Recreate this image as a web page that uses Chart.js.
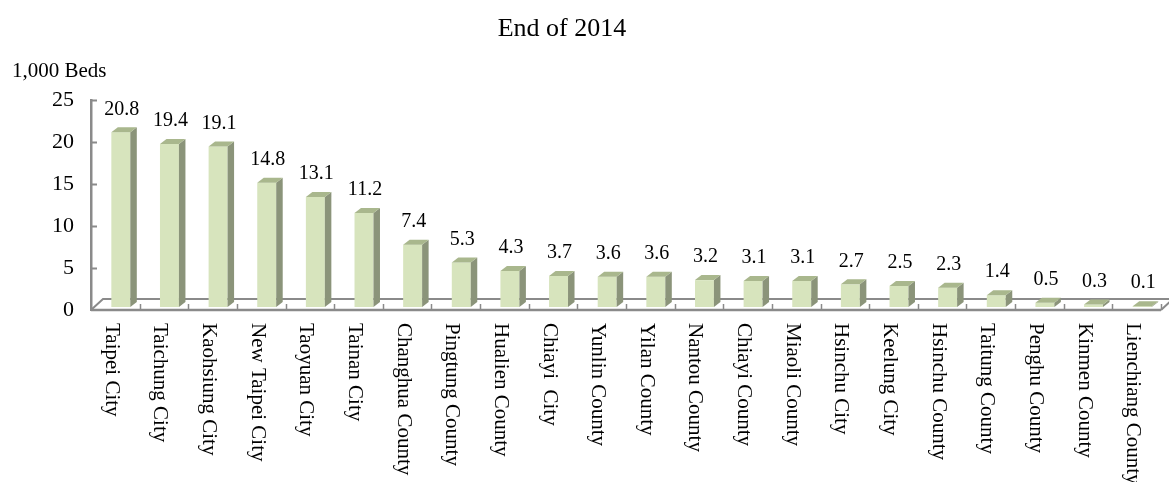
<!DOCTYPE html>
<html>
<head>
<meta charset="utf-8">
<script src="https://cdn.jsdelivr.net/npm/chart.js@4.4.1/dist/chart.umd.min.js"></script>
<style>
    html, body { margin: 0; padding: 0; background: #fff; }
    canvas { display: block; }
</style>
</head>
<body>
<canvas id="bedsChart" width="1169" height="482" style="width:1169px;height:482px"></canvas>
<script>
    // Hospital beds by city/county, end of 2014 (unit: 1,000 beds)
    const cities = [
        'Taipei City', 'Taichung City', 'Kaohsiung City', 'New Taipei City', 'Taoyuan City',
        'Tainan City', 'Changhua County', 'Pingtung County', 'Hualien County', 'Chiayi  City',
        'Yunlin County', 'Yilan County', 'Nantou County', 'Chiayi County', 'Miaoli County',
        'Hsinchu City', 'Keelung City', 'Hsinchu County', 'Taitung County', 'Penghu County',
        'Kinmen County', 'Lienchiang County'
    ];
    const beds = [
        20.8, 19.4, 19.1, 14.8, 13.1, 11.2, 7.4, 5.3, 4.3, 3.7, 3.6,
        3.6, 3.2, 3.1, 3.1, 2.7, 2.5, 2.3, 1.4, 0.5, 0.3, 0.1
    ];
    const yTicks = [0, 5, 10, 15, 20, 25];

    const SERIF = '"Liberation Serif", "Times New Roman", serif';
    const AXIS_GREY = '#8a8a8a';
    const FRONT = '#d7e4bd';
    const SIDE = '#8b947a';
    const TOP = '#a9b78d';

    // depth of the bar boxes and of the floor
    const BAR_DX = 6.5, BAR_DY = 5;
    const FLOOR_DX = 12, FLOOR_DY = 11;
    // bars stand a little inside the floor, not on its front edge
    const BAR_SHIFT_X = 5.5, BAR_SHIFT_Y = -3;

    const pseudo3d = {
        id: 'pseudo3d',
        beforeDatasetsDraw(chart) {
            const { ctx, chartArea: a } = chart;
            const y0 = a.bottom;
            ctx.save();
            ctx.strokeStyle = AXIS_GREY;
            ctx.lineWidth = 2;
            // floor outline
            ctx.beginPath();
            ctx.moveTo(a.left, y0);
            ctx.lineTo(a.left + FLOOR_DX, y0 - FLOOR_DY);
            ctx.lineTo(a.right + FLOOR_DX, y0 - FLOOR_DY);
            ctx.moveTo(a.right, y0);
            ctx.lineTo(a.right + FLOOR_DX, y0 - FLOOR_DY);
            ctx.stroke();
            ctx.lineWidth = 2.5;
            ctx.beginPath();
            ctx.moveTo(a.left, y0);
            ctx.lineTo(a.right, y0);
            ctx.stroke();
            // category tick marks on the floor edge
            const step = (a.right - a.left) / cities.length;
            ctx.lineWidth = 1.5;
            ctx.beginPath();
            for (let i = 1; i <= cities.length; i++) {
                const bx = Math.round(a.left + i * step) + 0.5;
                ctx.moveTo(bx, y0);
                ctx.lineTo(bx, y0 - 6);
            }
            ctx.stroke();
            ctx.restore();

            ctx.save();
            ctx.translate(BAR_SHIFT_X, BAR_SHIFT_Y);
        },
        afterDatasetsDraw(chart) {
            const { ctx } = chart;
            const bars = chart.getDatasetMeta(0).data;
            bars.forEach((bar, i) => {
                const { x, y, base, width } = bar.getProps(['x', 'y', 'base', 'width'], true);
                const l = x - width / 2, r = x + width / 2;
                // right side
                ctx.fillStyle = SIDE;
                ctx.beginPath();
                ctx.moveTo(r, y);
                ctx.lineTo(r + BAR_DX, y - BAR_DY);
                ctx.lineTo(r + BAR_DX, base - BAR_DY);
                ctx.lineTo(r, base);
                ctx.closePath();
                ctx.fill();
                // top
                ctx.fillStyle = TOP;
                ctx.beginPath();
                ctx.moveTo(l, y);
                ctx.lineTo(l + BAR_DX, y - BAR_DY);
                ctx.lineTo(r + BAR_DX, y - BAR_DY);
                ctx.lineTo(r, y);
                ctx.closePath();
                ctx.fill();
                // value label
                ctx.fillStyle = '#000';
                ctx.font = '20px ' + SERIF;
                ctx.textAlign = 'center';
                ctx.textBaseline = 'middle';
                ctx.fillText(beds[i].toFixed(1), x + 1, y - 23);
            });
            ctx.restore();
        },
        afterDraw(chart) {
            const { ctx, chartArea: a, scales: { x, y } } = chart;
            ctx.save();
            // inward tick marks on the value axis
            ctx.strokeStyle = AXIS_GREY;
            ctx.lineWidth = 2;
            ctx.beginPath();
            yTicks.forEach(v => {
                if (v === 0) return;
                const py = Math.round(y.getPixelForValue(v)) + 0.5;
                ctx.moveTo(a.left, py);
                ctx.lineTo(a.left + 6, py);
            });
            ctx.stroke();

            // rotated category labels, reading downward
            ctx.fillStyle = '#000';
            ctx.font = '21px ' + SERIF;
            ctx.textAlign = 'left';
            ctx.textBaseline = 'middle';
            cities.forEach((name, i) => {
                const cx = x.getPixelForValue(i) - 4;
                ctx.save();
                ctx.translate(cx, a.bottom + 13);
                ctx.rotate(Math.PI / 2);
                ctx.fillText(name, 0, 0);
                ctx.restore();
            });

            // title and unit
            ctx.textBaseline = 'alphabetic';
            ctx.textAlign = 'center';
            ctx.font = '26px ' + SERIF;
            ctx.fillText('End of 2014', 562, 36);
            ctx.textAlign = 'left';
            ctx.font = '21px ' + SERIF;
            ctx.fillText('1,000 Beds', 12, 77);
            ctx.restore();
        }
    };

    const canvas = document.getElementById('bedsChart');

    new Chart(canvas.getContext('2d'), {
        type: 'bar',
        data: {
            labels: cities,
            datasets: [{
                label: '1,000 Beds',
                data: beds,
                backgroundColor: FRONT,
                borderWidth: 0,
                categoryPercentage: 1,
                barPercentage: 0.39,
                clip: false
            }]
        },
        options: {
            responsive: false,
            animation: false,
            layout: {
                padding: { top: 100, right: 8, bottom: 172, left: 0 }
            },
            plugins: {
                legend: { display: false },
                title: { display: false },
                tooltip: { enabled: false }
            },
            scales: {
                x: {
                    display: false
                },
                y: {
                    min: 0,
                    max: 25,
                    afterFit: scale => { scale.width = 91; },
                    afterBuildTicks: scale => {
                        scale.ticks = yTicks.map(v => ({ value: v }));
                    },
                    grid: { display: false, drawTicks: false },
                    border: { display: true, color: AXIS_GREY, width: 2.5 },
                    ticks: {
                        padding: 17,
                        color: '#000',
                        font: { family: SERIF, size: 22 }
                    }
                }
            }
        },
        plugins: [pseudo3d]
    });
</script>
</body>
</html>
